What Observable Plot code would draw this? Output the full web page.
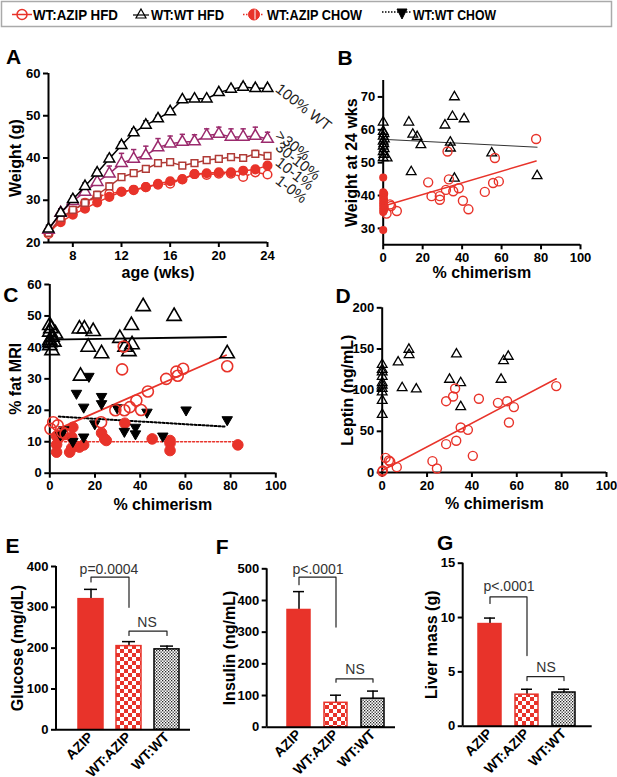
<!DOCTYPE html>
<html><head><meta charset="utf-8">
<script src="https://cdn.jsdelivr.net/npm/d3@7"></script>
<script src="https://cdn.jsdelivr.net/npm/@observablehq/plot@0.6"></script>
<style>
html,body{margin:0;padding:0;background:#fff;}
#page{position:relative;width:617px;height:777px;overflow:hidden;font-family:'Liberation Sans',Arial,sans-serif;}
.panel{position:absolute;}
.panel svg{overflow:visible;}
</style></head><body>
<svg width="0" height="0" style="position:absolute">
<defs>
<pattern id="checker" width="8" height="8" patternUnits="userSpaceOnUse">
<rect width="8" height="8" fill="#fff"/>
<rect width="4" height="4" fill="#e8332a"/>
<rect x="4" y="4" width="4" height="4" fill="#e8332a"/>
</pattern>
<pattern id="stipple" width="3" height="3" patternUnits="userSpaceOnUse">
<rect width="3" height="3" fill="#fff"/>
<rect width="1.3" height="1.3" fill="#222"/>
<rect x="1.5" y="1.5" width="1.3" height="1.3" fill="#222"/>
</pattern>
</defs></svg>
<div id="page">
<svg width="617" height="30" style="position:absolute;left:0;top:0">
<rect x="1.5" y="1.5" width="610" height="25" fill="#fff" stroke="#aaa" stroke-width="1.5"/>
<circle cx="22" cy="14.5" r="5" fill="none" stroke="#e8332a" stroke-width="1.5"/>
<line x1="12" x2="32" y1="14.5" y2="14.5" stroke="#e8332a" stroke-width="1.5"/>
<text x="33" y="20" font-weight="bold" font-size="15" textLength="85" lengthAdjust="spacingAndGlyphs" font-family="'Liberation Sans',Arial,sans-serif">WT:AZIP HFD</text>
<path d="M141,9 L146,18 L136,18 Z" fill="none" stroke="#000" stroke-width="1.2"/>
<line x1="133" x2="149" y1="15" y2="15" stroke="#000" stroke-width="1.2"/>
<text x="151" y="20" font-weight="bold" font-size="15" textLength="73" lengthAdjust="spacingAndGlyphs" font-family="'Liberation Sans',Arial,sans-serif">WT:WT HFD</text>
<line x1="243" x2="264" y1="14.5" y2="14.5" stroke="#e8332a" stroke-width="1.5" stroke-dasharray="1.5 1.5"/>
<circle cx="254" cy="14.5" r="5.5" fill="#e8332a" stroke="#e8332a" stroke-width="1"/>
<line x1="255" x2="255" y1="9.5" y2="19.5" stroke="#fff" stroke-width="1"/>
<text x="267" y="20" font-weight="bold" font-size="15" textLength="95" lengthAdjust="spacingAndGlyphs" font-family="'Liberation Sans',Arial,sans-serif">WT:AZIP CHOW</text>
<line x1="382" x2="411" y1="12" y2="12" stroke="#000" stroke-width="1.5" stroke-dasharray="1.5 1.5"/>
<path d="M397,9 L407,9 L402,19 Z" fill="#000" stroke="#000" stroke-width="1"/>
<text x="413" y="20" font-weight="bold" font-size="15" textLength="83" lengthAdjust="spacingAndGlyphs" font-family="'Liberation Sans',Arial,sans-serif">WT:WT CHOW</text>
</svg>
</div>
<script>
// ---------------- DATA ----------------
// Panel A: weight (g) vs age (wks)
const weeks = [6,7,8,9,10,11,12,13,14,15,16,17,18,19,20,21,22,23,24];
const wt100 = [23.2,27.0,30.2,33.3,36.5,39.8,43.0,46.0,47.8,49.3,51.0,53.8,54.0,54.0,55.5,56.3,56.8,56.5,56.5];
const wt100Err = [0.9,0.9,0.8,0.8,0.7,0.8,0.8,0.9,1.0,0.8,0.7,0.5,0.4,0.4,0.6,0.6,0.7,0.7,0.7];
const gt30 = [23.0,27.0,29.8,32.0,34.3,36.3,38.8,39.8,40.6,42.5,43.4,43.8,43.9,45.3,45.7,45.0,45.0,45.2,44.5];
const gt30Err = [0.9,0.9,0.9,1.3,1.5,1.8,2.3,2.2,2.2,2.1,1.8,1.8,1.6,1.6,1.6,1.9,1.9,2.1,1.6];
const c30to10 = [22.3,25.8,27.7,29.4,31.3,33.3,35.5,36.4,37.4,38.8,39.0,38.2,38.8,39.5,39.8,40.2,40.0,41.0,40.5];
const c30to10Err = [0.6,0.6,0.7,0.7,0.8,0.8,0.6,0.6,0.6,0.5,0.5,0.5,0.5,0.5,0.5,0.5,0.5,0.8,0.6];
const c10to1 = [22.5,24.8,26.6,28.0,29.5,30.8,32.0,32.5,33.1,33.9,34.5,34.9,36.2,36.4,36.6,36.6,37.0,37.3,38.2];
const c10to1Err = [0.5,0.5,0.5,0.5,0.5,0.5,0.4,0.4,0.4,0.4,0.4,0.4,0.4,0.4,0.4,0.4,0.4,0.4,0.5];
const c1to0 = [22.0,25.3,27.5,29.4,30.8,31.6,32.0,32.4,33.1,33.7,33.9,35.0,36.2,36.0,36.3,36.3,35.5,36.6,36.1];
const c1to0Err = [1.5,0.6,0.6,0.6,0.6,0.6,0.5,0.5,0.5,0.5,0.5,0.5,0.5,0.5,0.5,0.5,0.5,0.5,0.5];
const labelsA = ["100% WT", ">30%", "30-10%", "10-1%", "1-0%"];
const labelYA = [56.8, 45.8, 43.0, 39.4, 35.1];

// Panel B: weight at 24 wks vs % chimerism
const bWT = [[0,62.3],[0,59.5],[0.4,58.8],[0,58.0],[0.6,57.2],[0,56.5],[0.3,55.7],[0,55.0],[0.5,54.2],[0,53.3],[0.3,52.5],[0,51.5],[2,51.4],
  [13,62.3],[15,58.6],[17.2,57.9],[19.1,55.4],[14.2,47.2],[31.3,61.4],[35.1,64],[36.1,70],[41,63.3],[34,56.2],[34.1,54.4],[36.1,45.2],[55,52.9],[78,46]];
const bAZIP = [[32.6,53.4],[77.5,57.2],[56.6,51.4],[33.3,44.9],[22.8,44],[24.5,39.8],[28.7,39.8],[28.7,38.7],[31.8,41.7],[35.5,41.3],[38.3,42.2],
  [40.4,38.4],[43.2,35.8],[51.5,41.1],[55.7,43.8],[58.6,44.3],[6.9,35.3],[1.7,34.5],[3.4,37.3],[4,36.8]];
const bZero = [[0,45.5],[0,41],[0.5,40.5],[0,40],[0.3,39.5],[0,39],[0.5,38.5],[0,38],[0.3,37.5],[0,37],[0.8,36.5],[0,36],[0.4,35.5],[0,35],[0,29.5]];
const fitBWT = [[0,57.1],[78,54.7]];
const fitBAZIP = [[2,37.1],[77.5,50.5]];

// Panel C: % fat MRI vs % chimerism
const cWThfd = [[0,47],[0,44.9],[1,43.3],[1.8,41.7],[0,40.6],[1,39],[0,42.2],[2.5,44.3],[0.5,46],[0,41.5],[13.1,45.9],[15.3,45.9],[19.2,45.1],
  [17,40.1],[22.9,38],[13.6,30.9],[31,42.9],[33.3,40.1],[35,38.7],[36.1,47],[36.4,40.9],[41.3,53],[55,49.9],[78.5,38]];
const cWTchow = [[11.8,25.4],[17.3,30.8],[15,21],[22.9,24.4],[22.9,22.1],[15,11.5],[19.9,15.7],[29.8,20.8],[33,13.3],[37.9,14.6],[37.9,12.5],
  [43,19.4],[50,11.8],[60.3,20.1],[78.5,17],[6.2,13.8],[10.2,10.1],[4.7,12.2]];
const cAZIPhfd = [[32.7,40.3],[32,33],[78.5,34],[59,33.2],[56,32.3],[56.6,31],[51.5,30],[43.4,26],[38.3,23.1],[35.4,21],[33,20],[29,20],[40.4,20.1],
  [22.7,16.2],[1.5,16.2],[0.3,14.1],[3.5,15.2],[5.5,13],[7,12.5]];
const cAZIPchow = [[3,11.8],[3,9.1],[3,6.7],[8.8,6.7],[9.7,8],[9.7,11.5],[10.2,14.6],[13.1,8.3],[15,9],[22.9,12.8],[24.3,10.9],[25,10.4],
  [33.2,15.9],[45.3,10.9],[53.2,10.4],[53.2,9.5],[53.2,7.2],[83.2,9],[5.2,12]];
const fitCWThfd = [[0,42.5],[78,43.3]];
const fitCWTchow = [[4,18],[78,14.8]];
const fitCAZIPhfd = [[5,14.5],[78,37.5]];
const fitCAZIPchow = [[3,10],[83,10]];

// Panel D: leptin vs % chimerism
const dWT = [[0,131],[0,125],[0,122],[0,116.6],[0,109],[0,106],[0,102],[0,97.6],[0,87.4],[0,70.4],[7.1,134],[8.9,102.8],[11.9,149.4],[12,143],
  [15.2,101.2],[30,113],[33.1,143.7],[35,108.9],[35,79.8],[53,113],[54.1,135.6],[56.2,140.9]];
const dAZIP = [[0,1.2],[0.3,2.4],[1.5,17.8],[3,14.6],[3.6,13],[6.5,6.5],[22.4,13.8],[24.4,4.9],[28.5,34.4],[33,38.5],[28.5,86.6],[31.6,92.3],
  [32.5,102],[35,54.7],[38.2,51.8],[40.4,20.2],[43.1,89.5],[51.6,84.6],[55.7,86.6],[56.5,60.7],[58.7,79.4],[77.6,104.9]];
const fitDAZIP = [[0,2.4],[77.6,113.8]];

// Panels E-G: bars
const barCats = ["AZIP", "WT:AZIP", "WT:WT"];
const glucose = [320, 205, 197];
const glucoseErr = [24, 11, 8];
const insulin = [370, 77, 90];
const insulinErr = [58, 24, 24];
const liver = [9.4, 2.9, 3.1];
const liverErr = [0.55, 0.5, 0.3];
const glucoseSig = [362, 374, 300];
const glucoseNS = [231, 241.6, 231];
const insulinSig = [450, 474, 316];
const insulinNS = [142, 152.6, 142];
const liverSig = [11.3, 11.9, 6.5];
const liverNS = [4.2, 4.57, 4.2];

// ---------------- RENDER ----------------
const FONT = "'Liberation Sans', Arial, Helvetica, sans-serif";
const RED = "#e8332a", PURPLE = "#9b2a6d", BROWN = "#b03a36";
const STYLE = {fontFamily: FONT, fontSize: "13px", fontWeight: "bold", background: "transparent", overflow: "visible", color: "#000"};
const page = document.getElementById("page");
function place(node, left, top) {
  const d = document.createElement("div");
  d.className = "panel"; d.style.left = left + "px"; d.style.top = top + "px";
  d.appendChild(node); page.appendChild(d);
}
const sqrt3 = Math.sqrt(3);
const triangleDown = {draw(ctx, size) {
  const s = Math.sqrt(size) * 0.6824, t = s / 2, u = s * sqrt3 / 2;
  ctx.moveTo(0, s); ctx.lineTo(u, -t); ctx.lineTo(-u, -t); ctx.closePath();
}};
const px = d => d[0], py = d => d[1];
const MID = {textAnchor: "middle", lineAnchor: "middle"};

function labelMarks({xLabel, yLabel, xLabelDy, yLabelDx, letter, letterDx, letterDy}) {
  const m = [
    Plot.text([yLabel], {frameAnchor: "left", dx: yLabelDx, rotate: -90, text: d => d, fontSize: 16, fontWeight: "bold", ...MID}),
    Plot.text([letter], {frameAnchor: "top-left", dx: letterDx, dy: letterDy, text: d => d, fontSize: 21, fontWeight: "bold", ...MID})
  ];
  if (xLabel) m.push(Plot.text([xLabel], {frameAnchor: "bottom", dy: xLabelDy, text: d => d, fontSize: 16, fontWeight: "bold", ...MID}));
  return m;
}
function frameMarks(o) {
  return [
    Plot.axisX({ticks: o.xTicks, tickSize: 5, tickPadding: 3, strokeWidth: 2, label: null, fontSize: 13}),
    Plot.axisY({ticks: o.yTicks, tickSize: 5, tickPadding: 3, strokeWidth: 2, label: null, fontSize: 13}),
    Plot.ruleX([o.xmin], {strokeWidth: 2}),
    Plot.ruleY([o.ymin], {strokeWidth: 2}),
    ...labelMarks(o)
  ];
}

// Panel A
const seriesA = [
  {values: c1to0, err: c1to0Err, color: RED, symbol: "circle", fill: "white", dash: "3,2", r: 4.3},
  {values: c10to1, err: c10to1Err, color: RED, symbol: "circle", fill: RED, dash: null, r: 4.3},
  {values: c30to10, err: c30to10Err, color: BROWN, symbol: "square", fill: "white", dash: null, r: 3.8},
  {values: gt30, err: gt30Err, color: PURPLE, symbol: "triangle", fill: "white", dash: null, r: 4.3},
  {values: wt100, err: wt100Err, color: "#000", symbol: "triangle", fill: "white", dash: null, r: 4.0}
];
const marksA = [];
for (const s of seriesA) {
  const rows = weeks.map((w, i) => ({x: w, y: s.values[i], e: s.err[i]}));
  marksA.push(
    Plot.line(rows, {x: "x", y: "y", stroke: s.color, strokeWidth: 1.5, strokeDasharray: s.dash}),
    Plot.ruleX(rows, {x: "x", y1: "y", y2: d => d.y + d.e, stroke: s.color, strokeWidth: 1.5}),
    Plot.link(rows, {x1: d => d.x - 0.22, x2: d => d.x + 0.22, y1: d => d.y + d.e, y2: d => d.y + d.e, stroke: s.color, strokeWidth: 1.5}),
    Plot.dot(rows, {x: "x", y: "y", symbol: s.symbol, r: s.r, stroke: s.color, fill: s.fill, strokeWidth: 1.5})
  );
}
place(Plot.plot({
  width: 310, height: 245, marginLeft: 48, marginRight: 43, marginTop: 33, marginBottom: 43,
  x: {domain: [6, 24]}, y: {domain: [20, 60]}, style: STYLE,
  marks: [
    ...frameMarks({xTicks: [8,12,16,20,24], yTicks: [20,30,40,50,60], xmin: 6, ymin: 20, xLabel: "age (wks)", yLabel: "Weight (g)",
      xLabelDy: 30, yLabelDx: -33, letter: "A", letterDx: -35, letterDy: -16}),
    ...marksA,
    Plot.text(labelsA, {x: () => 24, y: (d, i) => labelYA[i], dx: 10, text: d => d, textAnchor: "start", lineAnchor: "middle", rotate: 38, fontSize: 15, fontWeight: "normal", fill: "#222"})
  ]
}), 0, 40);

// Panel B
place(Plot.plot({
  width: 312, height: 245, marginLeft: 77.7, marginRight: 37, marginTop: 40, marginBottom: 40.7,
  x: {domain: [0, 100]}, y: {domain: [25, 75]}, style: STYLE,
  marks: [
    ...frameMarks({xTicks: [0,20,40,60,80,100], yTicks: [30,40,50,60,70], xmin: 0, ymin: 25, xLabel: "% chimerism", yLabel: "Weight at 24 wks",
      xLabelDy: 28, yLabelDx: -31, letter: "B", letterDx: -38, letterDy: -22}),
    Plot.line(fitBWT, {x: px, y: py, stroke: "#333", strokeWidth: 1}),
    Plot.line(fitBAZIP, {x: px, y: py, stroke: RED, strokeWidth: 1.5}),
    Plot.dot(bZero, {x: px, y: py, r: 3.3, fill: RED, stroke: RED}),
    Plot.dot(bWT, {x: px, y: py, symbol: "triangle", r: 3.6, fill: "none", stroke: "#000", strokeWidth: 1.3}),
    Plot.dot(bAZIP, {x: px, y: py, r: 4.5, fill: "none", stroke: RED, strokeWidth: 1.4})
  ]
}), 305, 40);

// Panel C
place(Plot.plot({
  width: 310, height: 240, marginLeft: 49.3, marginRight: 34.7, marginTop: 9, marginBottom: 42.3,
  x: {domain: [0, 100]}, y: {domain: [0, 60]}, style: STYLE,
  marks: [
    ...frameMarks({xTicks: [0,20,40,60,80,100], yTicks: [0,10,20,30,40,50,60], xmin: 0, ymin: 0, xLabel: "% chimerism", yLabel: "% fat MRI",
      xLabelDy: 32, yLabelDx: -34, letter: "C", letterDx: -39, letterDy: 11}),
    Plot.line(fitCWThfd, {x: px, y: py, stroke: "#000", strokeWidth: 1.8}),
    Plot.line(fitCWTchow, {x: px, y: py, stroke: "#000", strokeWidth: 2, strokeDasharray: "2,2"}),
    Plot.line(fitCAZIPchow, {x: px, y: py, stroke: RED, strokeWidth: 1.5, strokeDasharray: "2,2"}),
    Plot.line(fitCAZIPhfd, {x: px, y: py, stroke: RED, strokeWidth: 1.8}),
    Plot.dot(cAZIPchow, {x: px, y: py, r: 5.3, fill: RED, stroke: RED, strokeWidth: 1}),
    Plot.dot(cWTchow, {x: px, y: py, symbol: triangleDown, r: 5, fill: "#000", stroke: "#000", strokeWidth: 1}),
    Plot.dot(cWThfd, {x: px, y: py, symbol: "triangle", r: 5.3, fill: "none", stroke: "#000", strokeWidth: 1.6}),
    Plot.dot(cAZIPhfd, {x: px, y: py, r: 5.5, fill: "none", stroke: RED, strokeWidth: 1.6})
  ]
}), 0, 275);

// Panel D
place(Plot.plot({
  width: 312, height: 240, marginLeft: 76.7, marginRight: 11, marginTop: 32.3, marginBottom: 43,
  x: {domain: [0, 100]}, y: {domain: [0, 200]}, style: STYLE,
  marks: [
    ...frameMarks({xTicks: [0,20,40,60,80,100], yTicks: [0,50,100,150,200], xmin: 0, ymin: 0, xLabel: "% chimerism", yLabel: "Leptin (ng/mL)",
      xLabelDy: 31, yLabelDx: -34, letter: "D", letterDx: -39, letterDy: -12}),
    Plot.line(fitDAZIP, {x: px, y: py, stroke: RED, strokeWidth: 1.5}),
    Plot.dot(dWT, {x: px, y: py, symbol: "triangle", r: 3.6, fill: "none", stroke: "#000", strokeWidth: 1.3}),
    Plot.dot(dAZIP, {x: px, y: py, r: 4.5, fill: "none", stroke: RED, strokeWidth: 1.4})
  ]
}), 305, 275);

// Bars
const barFill = {"AZIP": RED, "WT:AZIP": "url(#checker)", "WT:WT": "url(#stipple)"};
const barStroke = {"AZIP": RED, "WT:AZIP": RED, "WT:WT": "#000"};
function yAxisLine(index, scales, values, dim) {
  return d3.create("svg:line")
    .attr("x1", dim.marginLeft).attr("x2", dim.marginLeft)
    .attr("y1", dim.marginTop).attr("y2", dim.height - dim.marginBottom)
    .attr("stroke", "#000").attr("stroke-width", 2).node();
}
function barPanel({values, errs, sig, ns, ticks, ymax, label, letter, letterDx, letterDy, yLabelDx, pText, pDy, width, margins, range, paddingInner, textDx}) {
  const rows = barCats.map((c, i) => ({cat: c, v: values[i], e: errs[i], fill: barFill[c], stroke: barStroke[c]}));
  const sigPts = [{x: barCats[0], y: sig[0]}, {x: barCats[0], y: sig[1]}, {x: barCats[1], y: sig[1]}, {x: barCats[1], y: sig[2]}];
  const nsPts = [{x: barCats[1], y: ns[0]}, {x: barCats[1], y: ns[1]}, {x: barCats[2], y: ns[1]}, {x: barCats[2], y: ns[2]}];
  return Plot.plot({
    width, height: 232, ...margins,
    x: {domain: barCats, range, paddingInner, paddingOuter: 0},
    y: {domain: [0, ymax]},
    color: {type: "identity"},
    style: STYLE,
    marks: [
      Plot.axisX({tickRotate: -45, tickSize: 0, tickPadding: 5, label: null, fontSize: 14}),
      Plot.axisY({ticks, tickSize: 5, tickPadding: 3, strokeWidth: 2, label: null, fontSize: 13}),
      Plot.ruleX(rows, {x: "cat", y1: "v", y2: d => d.v + d.e, strokeWidth: 1.5}),
      Plot.tickY(rows, {x: "cat", y: d => d.v + d.e, strokeWidth: 1.5, insetLeft: 6, insetRight: 6}),
      Plot.barY(rows, {x: "cat", y: "v", fill: "fill", stroke: "stroke", strokeWidth: 1.5}),
      Plot.ruleY([0], {strokeWidth: 2}),
      yAxisLine,
      Plot.line(sigPts, {x: "x", y: "y", stroke: "#222", strokeWidth: 1.2}),
      Plot.line(nsPts, {x: "x", y: "y", stroke: "#222", strokeWidth: 1.2}),
      Plot.text([pText], {x: () => barCats[0], y: () => sig[1], dx: textDx, dy: pDy, text: d => d, fontSize: 14, fontWeight: "normal", fill: "#333"}),
      Plot.text(["NS"], {x: () => barCats[1], y: () => ns[1], dx: textDx, dy: -9, text: d => d, fontSize: 14, fontWeight: "normal", fill: "#333"}),
      ...labelMarks({yLabel: label, yLabelDx, letter, letterDx, letterDy})
    ]
  });
}
place(barPanel({values: glucose, errs: glucoseErr, sig: glucoseSig, ns: glucoseNS, ticks: [0,100,200,300,400], ymax: 400,
  label: "Glucose (mg/dL)", letter: "E", letterDx: -44, letterDy: -20, yLabelDx: -39, pText: "p=0.0004", pDy: -8, width: 205,
  margins: {marginLeft: 56, marginRight: 15, marginTop: 21, marginBottom: 47.7}, range: [76.7, 179], paddingInner: 0.353, textDx: 18}), 0, 545);
place(barPanel({values: insulin, errs: insulinErr, sig: insulinSig, ns: insulinNS, ticks: [0,100,200,300,400,500], ymax: 500,
  label: "Insulin (ng/mL)", letter: "F", letterDx: -45, letterDy: -22, yLabelDx: -37, pText: "p<.0001", pDy: -8, width: 205,
  margins: {marginLeft: 61.7, marginRight: 15, marginTop: 23.3, marginBottom: 50.3}, range: [81.7, 180], paddingInner: 0.378, textDx: 19}), 205, 545);
place(barPanel({values: liver, errs: liverErr, sig: liverSig, ns: liverNS, ticks: [0,5,10,15], ymax: 15,
  label: "Liver mass (g)", letter: "G", letterDx: -18, letterDy: -20, yLabelDx: -31, pText: "p<.0001", pDy: -10, width: 207,
  margins: {marginLeft: 52.7, marginRight: 25.3, marginTop: 17.7, marginBottom: 51.3}, range: [66.7, 166.7], paddingInner: 0.368, textDx: 19}), 410, 545);
</script>
</body></html>
